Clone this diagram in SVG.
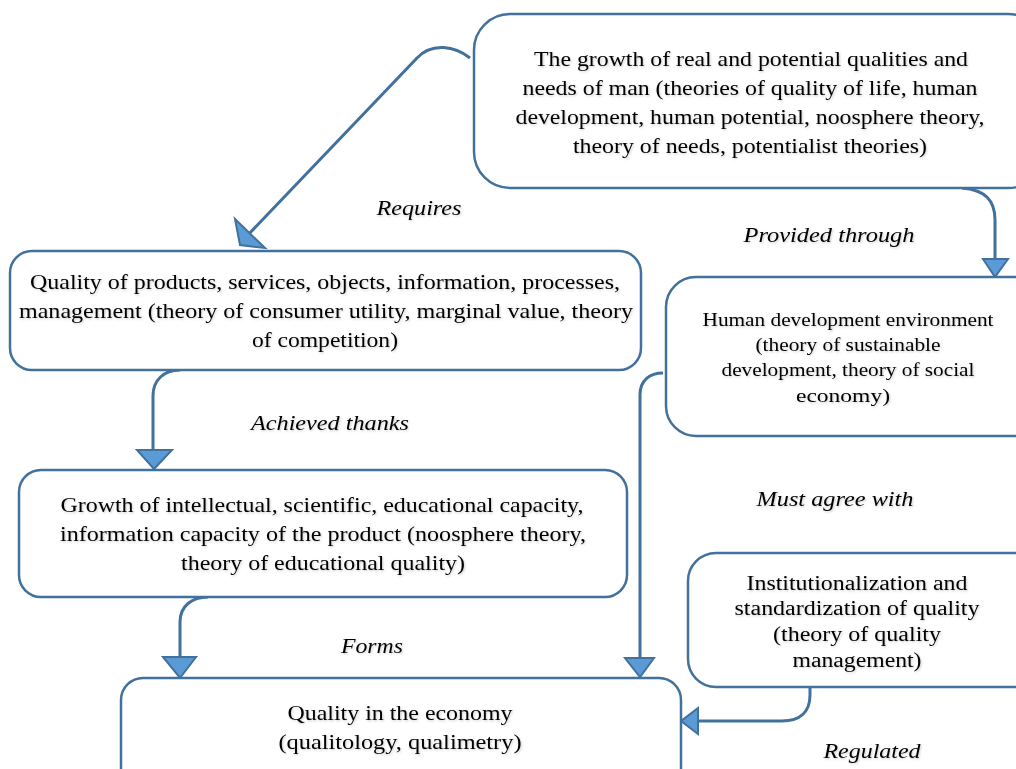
<svg xmlns="http://www.w3.org/2000/svg" width="1016" height="769" viewBox="0 0 1016 769">
<defs>
<filter id="sh" x="-5%" y="-20%" width="110%" height="150%">
<feDropShadow dx="1" dy="1.2" stdDeviation="0.8" flood-color="#000" flood-opacity="0.2"/>
</filter>
</defs>
<style>
.box{fill:#fff;stroke:#41719C;stroke-width:2.5}
.t{font-family:'Liberation Serif','Times New Roman',serif;font-size:21px;fill:#000;text-anchor:middle;filter:url(#sh)}
.s{font-size:18.5px}
.m{font-size:20px}
.lab{font-family:'Liberation Serif','Times New Roman',serif;font-style:italic;font-size:20px;fill:#000;text-anchor:middle;filter:url(#sh)}
.c{fill:none;stroke:#41719C;stroke-width:3}
.ah{fill:#5B9BD5;stroke:#41719C;stroke-width:2;stroke-linejoin:miter}
</style>
<rect width="1016" height="769" fill="#fff"/>
<g id="connectors">
<path class="c" d="M470,58 C455,46 432,42 417,58 L246,237"/>
<polygon class="ah" points="235,219 265,248 240,245"/>
<path class="c" d="M962,188 C985,190 995,200 995,220 L995,262"/>
<polygon class="ah" points="983,259 1008,259 995,277"/>
<path class="c" d="M180,370 C164,370 153,380 153,396 L153,452"/>
<polygon class="ah" points="137,450 172,450 154,469"/>
<path class="c" d="M208,597 C192,597 180,606 180,622 L180,660"/>
<polygon class="ah" points="163,657 196,657 180,678"/>
<path class="c" d="M663,373 C650,373 640,380 640,395 L640,660"/>
<polygon class="ah" points="625,658 654,658 640,677"/>
<path class="c" d="M810,687 L810,695 C810,712 800,721 782,721 L696,721"/>
<polygon class="ah" points="698,708 698,734 681,721"/>
</g>
<g id="n1">
<rect class="box" x="474" y="14" width="570" height="174" rx="36"/>
<text class="t" x="751" y="66" textLength="434" lengthAdjust="spacingAndGlyphs">The growth of real and potential qualities and</text>
<text class="t" x="750" y="95" textLength="455" lengthAdjust="spacingAndGlyphs">needs of man (theories of quality of life, human</text>
<text class="t" x="750" y="124" textLength="469" lengthAdjust="spacingAndGlyphs">development, human potential, noosphere theory,</text>
<text class="t" x="750" y="153" textLength="354" lengthAdjust="spacingAndGlyphs">theory of needs, potentialist theories)</text>
</g>
<g id="n2">
<rect class="box" x="10" y="251" width="631" height="119" rx="22"/>
<text class="t" x="325" y="289" textLength="590" lengthAdjust="spacingAndGlyphs">Quality of products, services, objects, information, processes,</text>
<text class="t" x="326" y="318" textLength="614" lengthAdjust="spacingAndGlyphs">management (theory of consumer utility, marginal value, theory</text>
<text class="t" x="325" y="347" textLength="146" lengthAdjust="spacingAndGlyphs">of competition)</text>
</g>
<g id="n3">
<rect class="box" x="666" y="277" width="380" height="159" rx="30"/>
<text class="t s" x="848" y="326" textLength="291" lengthAdjust="spacingAndGlyphs">Human development environment</text>
<text class="t s" x="848" y="351" textLength="185" lengthAdjust="spacingAndGlyphs">(theory of sustainable</text>
<text class="t s" x="848" y="376" textLength="253" lengthAdjust="spacingAndGlyphs">development, theory of social</text>
<text class="t s" x="843" y="402" textLength="94" lengthAdjust="spacingAndGlyphs">economy)</text>
</g>
<g id="n4">
<rect class="box" x="19" y="470" width="608" height="127" rx="22"/>
<text class="t" x="322" y="512" textLength="523" lengthAdjust="spacingAndGlyphs">Growth of intellectual, scientific, educational capacity,</text>
<text class="t" x="323" y="541" textLength="526" lengthAdjust="spacingAndGlyphs">information capacity of the product (noosphere theory,</text>
<text class="t" x="323" y="570" textLength="284" lengthAdjust="spacingAndGlyphs">theory of educational quality)</text>
</g>
<g id="n5">
<rect class="box" x="688" y="553" width="360" height="134" rx="28"/>
<text class="t m" x="857" y="590" textLength="221" lengthAdjust="spacingAndGlyphs">Institutionalization and</text>
<text class="t m" x="857" y="615" textLength="245" lengthAdjust="spacingAndGlyphs">standardization of quality</text>
<text class="t m" x="857" y="641" textLength="168" lengthAdjust="spacingAndGlyphs">(theory of quality</text>
<text class="t m" x="857" y="667" textLength="129" lengthAdjust="spacingAndGlyphs">management)</text>
</g>
<g id="n6">
<rect class="box" x="121" y="678" width="560" height="120" rx="22"/>
<text class="t" x="400" y="720" textLength="225" lengthAdjust="spacingAndGlyphs">Quality in the economy</text>
<text class="t" x="400" y="749" textLength="243" lengthAdjust="spacingAndGlyphs">(qualitology, qualimetry)</text>
</g>
<g id="labels">
<text class="lab" x="419" y="215" textLength="85" lengthAdjust="spacingAndGlyphs">Requires</text>
<text class="lab" x="829" y="242" textLength="171" lengthAdjust="spacingAndGlyphs">Provided through</text>
<text class="lab" x="330" y="430" textLength="158" lengthAdjust="spacingAndGlyphs">Achieved thanks</text>
<text class="lab" x="835" y="506" textLength="157" lengthAdjust="spacingAndGlyphs">Must agree with</text>
<text class="lab" x="372" y="653" textLength="62" lengthAdjust="spacingAndGlyphs">Forms</text>
<text class="lab" x="872" y="758" textLength="97" lengthAdjust="spacingAndGlyphs">Regulated</text>
</g>
</svg>
